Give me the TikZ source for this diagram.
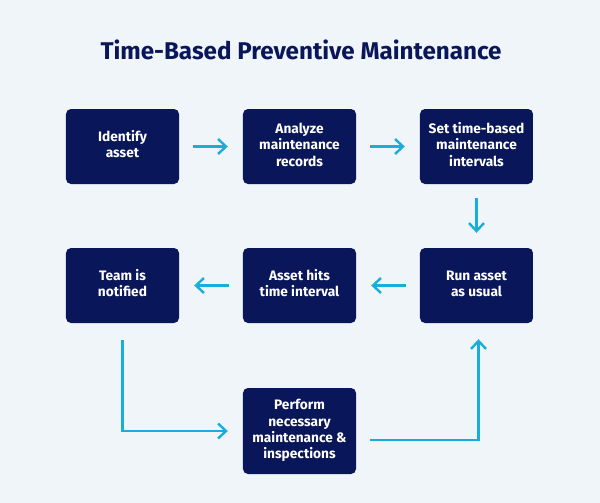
\documentclass[tikz,border=0pt]{standalone}
\usepackage{fontspec}
\setmainfont{Fira Sans}
\usetikzlibrary{matrix,arrows.meta}
\usetikzlibrary{calc}

\definecolor{pagebg}{RGB}{240,245,249}
\definecolor{navy}{RGB}{9,22,90}
\definecolor{flow}{RGB}{24,173,218}

\newcommand\boxlines[1]{\begin{tabular}{@{}c@{}}#1\end{tabular}}

\begin{document}
\begin{tikzpicture}[x=1pt,y=-1pt,
>={Straight Barb[length=8pt,width=15pt]},
link/.style={->,draw=flow,line width=2.4pt,shorten <=14pt,shorten >=15pt}]
\fill[pagebg] (0,0) rectangle (600,503);
\useasboundingbox (0,0) rectangle (600,503);

\node (title) at (301,50) {\fontsize{24.2}{29}\selectfont\bfseries\color{navy}Time-Based Preventive Maintenance};

\matrix [matrix of nodes,
matrix anchor=run.center,
column sep={177pt,between origins},
row sep={139pt,between origins},
nodes={fill=navy, rounded corners=5pt, text=white, inner sep=0pt,
  minimum width=113pt, minimum height=75pt, anchor=center,
  font=\fontsize{13.7}{16.3}\selectfont\bfseries}]
at (476.5,285.5)
{
|(identify)| \boxlines{Identify\\asset} & |(analyze)| \boxlines{Analyze\\maintenance\\records} & |(set)| \boxlines{Set time-based\\maintenance\\intervals} \\
|(team)| \boxlines{Team is\\notified} & |(hits)| \boxlines{Asset hits\\time interval} & |(run)| \boxlines{Run asset\\as usual} \\[6.5pt]
& |(perform)[minimum height=86pt]| \boxlines{Perform\\necessary\\maintenance \&\\inspections} & \\};

\draw[link] (identify)--(analyze);
\draw[link] (analyze)--(set);
\draw[link] (set)--(run);
\draw[link] (run)--(hits);
\draw[link] (hits)--(team);

\draw[link,shorten <=17pt] (team.south) |- (perform.west);
\draw[link,shorten >=16pt] ([yshift=-9pt]perform.east) -| ([xshift=2pt]run.south);

\end{tikzpicture}
\end{document}
